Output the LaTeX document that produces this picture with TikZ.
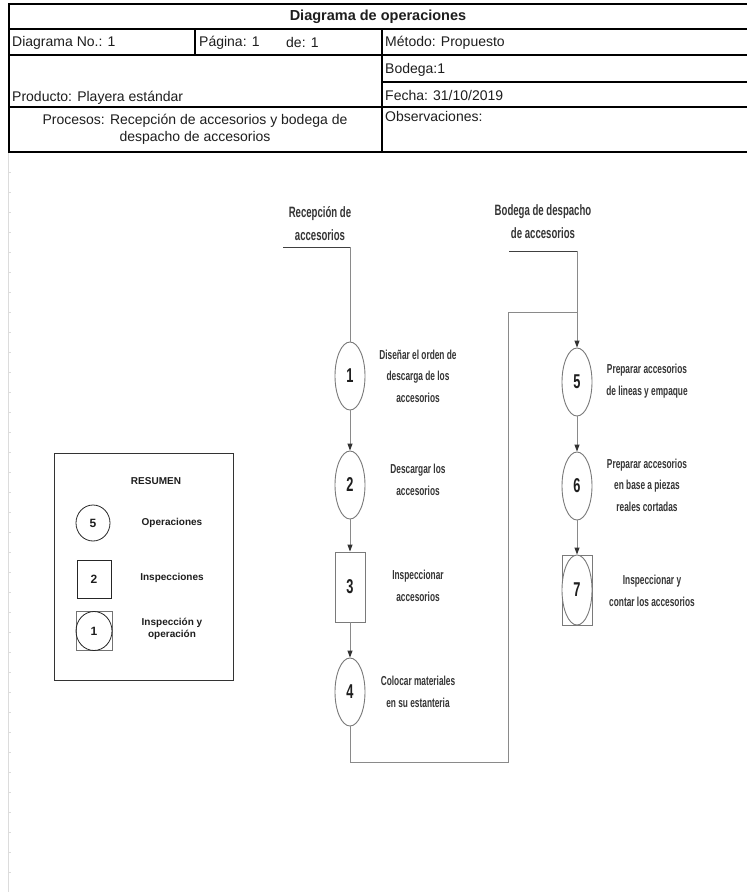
\documentclass[tikz,border=0pt]{standalone}
\usepackage{fontspec}
\setmainfont{Liberation Sans}
\newfontfamily\narrowfont[FakeStretch=0.64]{Liberation Sans}
\usetikzlibrary{arrows.meta,shapes.geometric}
\definecolor{ink}{HTML}{1E1E1E}
\definecolor{wire}{HTML}{8A8A8A}
\definecolor{rim}{HTML}{7A7A7A}
\definecolor{grid}{HTML}{DCDCDC}

\begin{document}
\begin{tikzpicture}[x=1pt,y={(0pt,-1pt)},
  cell/.style={anchor=west,inner sep=0pt,text=ink,font=\fontsize{14}{17}\selectfont},
  rule/.style={line width=2.2pt,black},
  sep/.style={line width=1.2pt,black},
  op/.style={ellipse,draw=rim,line width=0.9pt,fill=white,inner sep=0pt,minimum width=30pt,minimum height=68pt,
    font=\narrowfont\bfseries\fontsize{20}{20}\selectfont,text=ink},
  insp/.style={rectangle,draw=rim,line width=0.9pt,fill=white,inner sep=0pt,minimum width=30pt,minimum height=70pt,
    font=\narrowfont\bfseries\fontsize{20}{20}\selectfont,text=ink},
  lbl/.style={align=center,inner sep=0pt,text=ink!90,font=\narrowfont\bfseries\fontsize{13}{21.5}\selectfont},
  hdr/.style={align=center,inner sep=0pt,text=ink!90,font=\narrowfont\bfseries\fontsize{15}{23}\selectfont},
  flow/.style={-{Triangle[length=7pt,width=5pt,color=black!80]},line width=1pt,wire},
  link/.style={line width=1pt,wire},
  key/.style={font=\bfseries\fontsize{10}{12}\selectfont,align=center,inner sep=0pt,text=ink},
  keynum/.style={font=\bfseries\fontsize{12}{12}\selectfont,inner sep=0pt,text=ink,line width=0.8pt}]
  \useasboundingbox[fill=white] (0,0) rectangle (747,892);

  % ===== sheet gridline =====
  \draw[grid,line width=0.8pt] (8,152) -- (8,892);
  \foreach \y in {172,192,...,892} \draw[grid,line width=0.6pt] (8,\y) -- (11,\y);

  % ===== header table =====
  \draw[rule] (9,4) -- (747,4);
  \draw[rule] (9,29) -- (747,29);
  \draw[rule] (9,55) -- (747,55);
  \draw[rule] (382,82) -- (747,82);
  \draw[rule] (9,107) -- (747,107);
  \draw[rule] (9,152) -- (747,152);
  \draw[rule] (9,3) -- (9,153);
  \draw[sep] (195,29) -- (195,55);
  \draw[sep] (382,29) -- (382,152);

  \node[font=\bfseries\fontsize{14.5}{17}\selectfont,text=ink,inner sep=0pt] (title) at (378,16.5) {Diagrama de operaciones};
  \node[cell] (dno) at (12,42.5) {Diagrama No.: 1};
  \node[cell] (pag) at (199,42.5) {Página: 1};
  \node[cell] (de) at (286,42.5) {de: 1};
  \node[cell] (met) at (385,42.5) {Método: Propuesto};
  \node[cell] (bod) at (385,69.5) {Bodega:1};
  \node[cell] (fec) at (385,95) {Fecha: 31/10/2019};
  \node[cell] (prod) at (12,97.5) {Producto: Playera estándar};
  \node[cell,anchor=center,align=center,font=\fontsize{14}{17}\selectfont] (proc) at (195,129.5) {Procesos: Recepción de accesorios y bodega de\\despacho de accesorios};
  \node[cell] (obs) at (385,116) {Observaciones:};

  % ===== column heads =====
  \node[hdr] (rec) at (320,223.5) {Recepción de\\accesorios};
  \coordinate (recl) at (283,247);
  \coordinate (recr) at (350,247);
  \node[hdr] (bdg) at (543,222) {Bodega de despacho\\de accesorios};
  \coordinate (bdgl) at (509,251);
  \coordinate (bdgr) at (577,251);

  % ===== reception column =====
  \node[op] (s1) at (350,376) {1};
  \node[op] (s2) at (350,485) {2};
  \node[insp] (s3) at (350,587) {3};
  \node[op] (s4) at (350,692) {4};
  \node[lbl] (t1) at (418,376) {Diseñar el orden de\\descarga de los\\accesorios};
  \node[lbl] (t2) at (418,480) {Descargar los\\accesorios};
  \node[lbl] (t3) at (418,586) {Inspeccionar\\accesorios};
  \node[lbl] (t4) at (418,692) {Colocar materiales\\en su estanteria};

  % ===== dispatch column =====
  \node[op] (s5) at (577,382) {5};
  \node[op] (s6) at (577,486) {6};
  \node[insp] (s7) at (577,590) {};
  \node[op,minimum height=70pt] (s7o) at (s7) {7};
  \node[lbl] (t5) at (647,381) {Preparar accesorios\\de lineas y empaque};
  \node[lbl] (t6) at (647,485) {Preparar accesorios\\en base a piezas\\reales cortadas};
  \node[lbl] (t7) at (652,591) {Inspeccionar y\\contar los accesorios};

  % ===== connectors =====
  \draw[line width=1pt,black!75] (recl) -- (recr);
  \draw[line width=1pt,black!75] (bdgl) -- (bdgr);
  \draw[link] (recr) -- (s1.north);
  \draw[flow] (s1) -- (s2);
  \draw[flow] (s2) -- (s3);
  \draw[flow] (s3) -- (s4);
  \draw[flow] (bdgr) -- (s5.north);
  \draw[flow] (s5) -- (s6);
  \draw[flow] (s6) -- (s7);
  \coordinate (lpa) at (508,762);
  \coordinate (lpb) at (508,312);
  \coordinate (join) at (577,312);
  \draw[link] (s4.south) |- (lpa) -- (lpb) -- (join);

  % ===== summary =====
  \node[draw=black!80,line width=0.9pt,minimum width=179pt,minimum height=227pt,inner sep=0pt] (sum) at (143.5,566.5) {};
  \node[key] (sumt) at (156,481) {RESUMEN};
  \node[keynum,ellipse,draw=black!85,minimum width=34pt,minimum height=36pt] (k1) at (93,523) {5};
  \node[keynum,rectangle,draw=black!85,minimum width=34pt,minimum height=38pt] (k2) at (94,579) {2};
  \node[keynum,rectangle,draw=black!55,minimum width=36pt,minimum height=39pt] (k3) at (94,631) {};
  \node[keynum,ellipse,draw=black!85,minimum width=36pt,minimum height=39pt] (k3o) at (k3) {1};
  \node[key] (k1t) at (172,523) {Operaciones};
  \node[key] (k2t) at (172,578) {Inspecciones};
  \node[key] (k3t) at (172,629) {Inspección y\\operación};
\end{tikzpicture}
\end{document}
